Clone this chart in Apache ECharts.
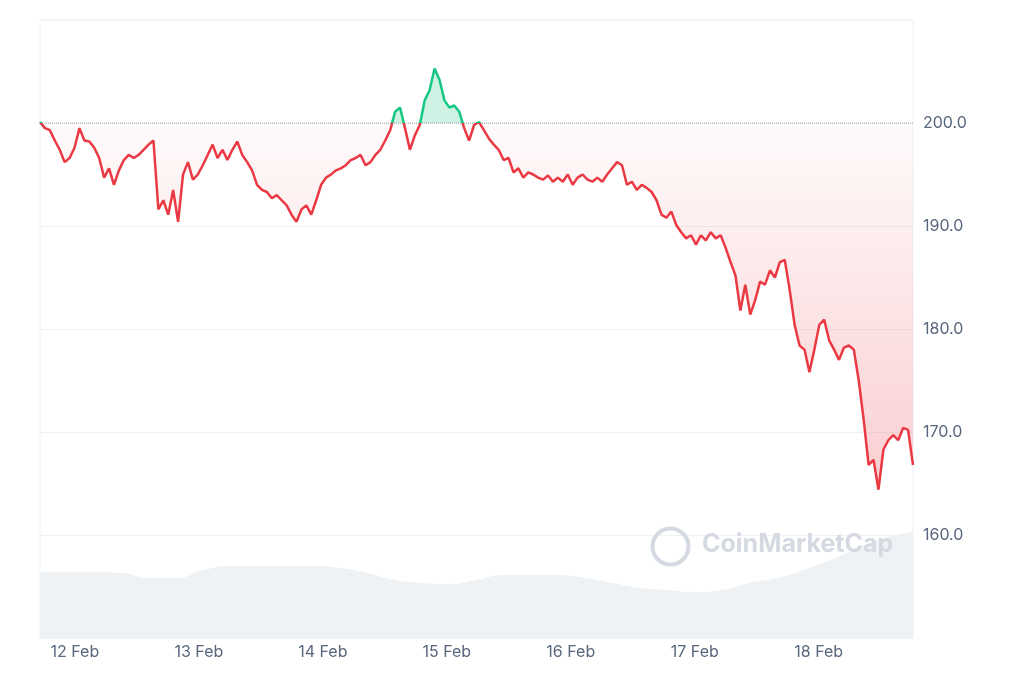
<!DOCTYPE html>
<html>
<head>
<meta charset="utf-8">
<script src="https://cdn.jsdelivr.net/npm/echarts@6/dist/echarts.min.js"></script>
<style>
  html, body { margin: 0; padding: 0; background: #fff; }
  #chart { width: 1024px; height: 683px; }
</style>
</head>
<body>
<div id="chart"></div>
<script>
// ============================
// Datos
// ============================
var startTime = new Date(2024, 1, 11, 17, 15).getTime();
var endTime = new Date(2024, 1, 18, 18, 15).getTime();
var baseline = 200;

var precios = [
  200.1, 199.5, 199.3, 198.3, 197.4, 196.2, 196.6, 197.6, 199.5, 198.3, 198.2, 197.6, 196.6, 194.7, 195.6, 194.0,
  195.4, 196.4, 196.9, 196.6, 196.9, 197.4, 197.9, 198.3, 191.6, 192.5, 191.1, 193.5, 190.4, 195.0, 196.2, 194.5,
  195.0, 195.9, 196.9, 197.9, 196.6, 197.4, 196.4, 197.4, 198.2, 196.9, 196.2, 195.4, 194.0, 193.5, 193.3, 192.7,
  193.0, 192.5, 192.0, 191.1, 190.4, 191.6, 192.0, 191.1, 192.5, 194.0, 194.7, 195.0, 195.4, 195.6, 195.9, 196.4,
  196.6, 196.9, 195.9, 196.2, 196.9, 197.4, 198.3, 199.3, 201.1, 201.5, 199.5, 197.4, 198.8, 199.8, 202.2, 203.2,
  205.3, 204.2, 202.2, 201.5, 201.7, 201.1, 199.5, 198.3, 199.8, 200.1, 199.3, 198.5, 197.9, 197.4, 196.4, 196.6,
  195.2, 195.6, 194.7, 195.2, 195.0, 194.7, 194.5, 194.9, 194.3, 194.7, 194.3, 195.0, 194.0, 194.7, 195.0, 194.5,
  194.3, 194.7, 194.3, 195.0, 195.6, 196.2, 195.9, 194.0, 194.3, 193.5, 194.0, 193.7, 193.3, 192.5, 191.1, 190.8,
  191.4, 190.1, 189.4, 188.8, 189.1, 188.2, 189.1, 188.6, 189.4, 188.8, 189.1, 187.9, 186.5, 185.2, 181.8, 184.3,
  181.4, 182.8, 184.6, 184.3, 185.7, 185.0, 186.5, 186.7, 183.8, 180.4, 178.4, 178.0, 175.8, 178.0, 180.4, 180.9,
  178.9, 178.0, 177.0, 178.2, 178.4, 178.0, 175.0, 171.2, 166.8, 167.3, 164.4, 168.3, 169.2, 169.7, 169.2, 170.4,
  170.2, 166.8
];

// volumen (unidades relativas)
var volumen = [66, 66, 66, 65, 60, 60, 68, 72, 72, 72, 72, 70, 65, 58, 55, 54, 58, 63, 63, 63, 60, 55, 50, 48, 46, 48, 55, 60, 68, 78, 90, 100, 106];

// ============================
// Chart
// ============================
var chart = echarts.init(document.getElementById("chart"));

var gridTop = 20, gridBottom = 45, yMin = 150, yMax = 210;
var step = (endTime - startTime) / (precios.length - 1);
var t = i => startTime + i * step;
var precioData = precios.map((v, i) => [t(i), v]);
// bandas para el relleno respecto a la línea base
var bajoBase = precios.map((v, i) => [t(i), Math.min(v, baseline)]);
var bajoBanda = precios.map((v, i) => [t(i), baseline - Math.min(v, baseline)]);
var altoBase = precios.map((v, i) => [t(i), baseline]);
var altoBanda = precios.map((v, i) => [t(i), Math.max(v, baseline) - baseline]);
var vstep = (endTime - startTime) / (volumen.length - 1);
var volumenData = volumen.map((v, i) => [startTime + i * vstep, v]);

// color de línea: verde sobre la base, rojo debajo
var plotH = 683 - gridTop - gridBottom;
var baseY = (gridTop + (yMax - baseline) / (yMax - yMin) * plotH) / 683;
var lineColor = new echarts.graphic.LinearGradient(0, 0, 0, 683, [
    { offset: 0, color: "#16c784" },
    { offset: baseY, color: "#16c784" },
    { offset: baseY, color: "#ea3943" },
    { offset: 1, color: "#ea3943" }
], true);

var invisible = { type: "line", showSymbol: false, silent: true, lineStyle: { opacity: 0 } };

chart.setOption({
    animation: false,
    grid: { left: 40, right: 111, top: gridTop, bottom: gridBottom, show: true, borderColor: "#eff2f5", borderWidth: 1 },
    xAxis: {
        type: "time",
        min: startTime,
        max: endTime,
        minInterval: 86400000,
        maxInterval: 86400000,
        axisLine: { show: false },
        axisTick: { show: false },
        splitLine: { show: false },
        axisLabel: {
            color: "#58667e",
            fontSize: 16,
            fontFamily: "Inter",
            margin: 6,
            formatter: v => new Date(v).getDate() + " Feb"
        }
    },
    yAxis: [
        {
            type: "value",
            position: "right",
            min: yMin,
            max: yMax,
            interval: 10,
            axisLine: { show: false },
            axisTick: { show: false },
            splitLine: { lineStyle: { color: "#eff2f5" } },
            axisLabel: {
                color: "#58667e",
                fontSize: 16,
                fontFamily: "Inter",
                margin: 10,
                formatter: v => (v === yMin || v === yMax ? "" : v.toFixed(1))
            }
        },
        { type: "value", min: 0, max: 617, show: false }
    ],
    graphic: [
        {
            type: "circle",
            left: 650, top: 526, z: 100,
            shape: { r: 18 },
            style: { fill: "none", stroke: "#d5dae2", lineWidth: 4 }
        },
        {
            type: "text",
            left: 702, top: 532, z: 100,
            style: { text: "CoinMarketCap", fill: "#d5dae2", font: "bold 25px Inter" }
        }
    ],
    series: [
        {
            type: "line",
            yAxisIndex: 1,
            data: volumenData,
            showSymbol: false,
            smooth: true,
            lineStyle: { width: 0 },
            areaStyle: { color: "#eff2f5", opacity: 1 },
            z: 1
        },
        { ...invisible, stack: "bajo", data: bajoBase },
        {
            ...invisible, stack: "bajo", data: bajoBanda,
            areaStyle: {
                color: new echarts.graphic.LinearGradient(0, 0, 0, 1, [
                    { offset: 0, color: "rgba(234,57,67,0.03)" },
                    { offset: 1, color: "rgba(234,57,67,0.35)" }
                ])
            }
        },
        {
            type: "line", showSymbol: false, silent: true,
            lineStyle: { color: "#9aa2ad", type: "dotted", width: 1 },
            data: altoBase, z: 2
        },
        { ...invisible, stack: "alto", data: altoBase },
        { ...invisible, stack: "alto", data: altoBanda, areaStyle: { color: "rgba(22,199,132,0.3)" } },
        {
            type: "line",
            data: precioData,
            showSymbol: false,
            lineStyle: { width: 2.5, color: lineColor },
            z: 3
        }
    ]
});
</script>
</body>
</html>
